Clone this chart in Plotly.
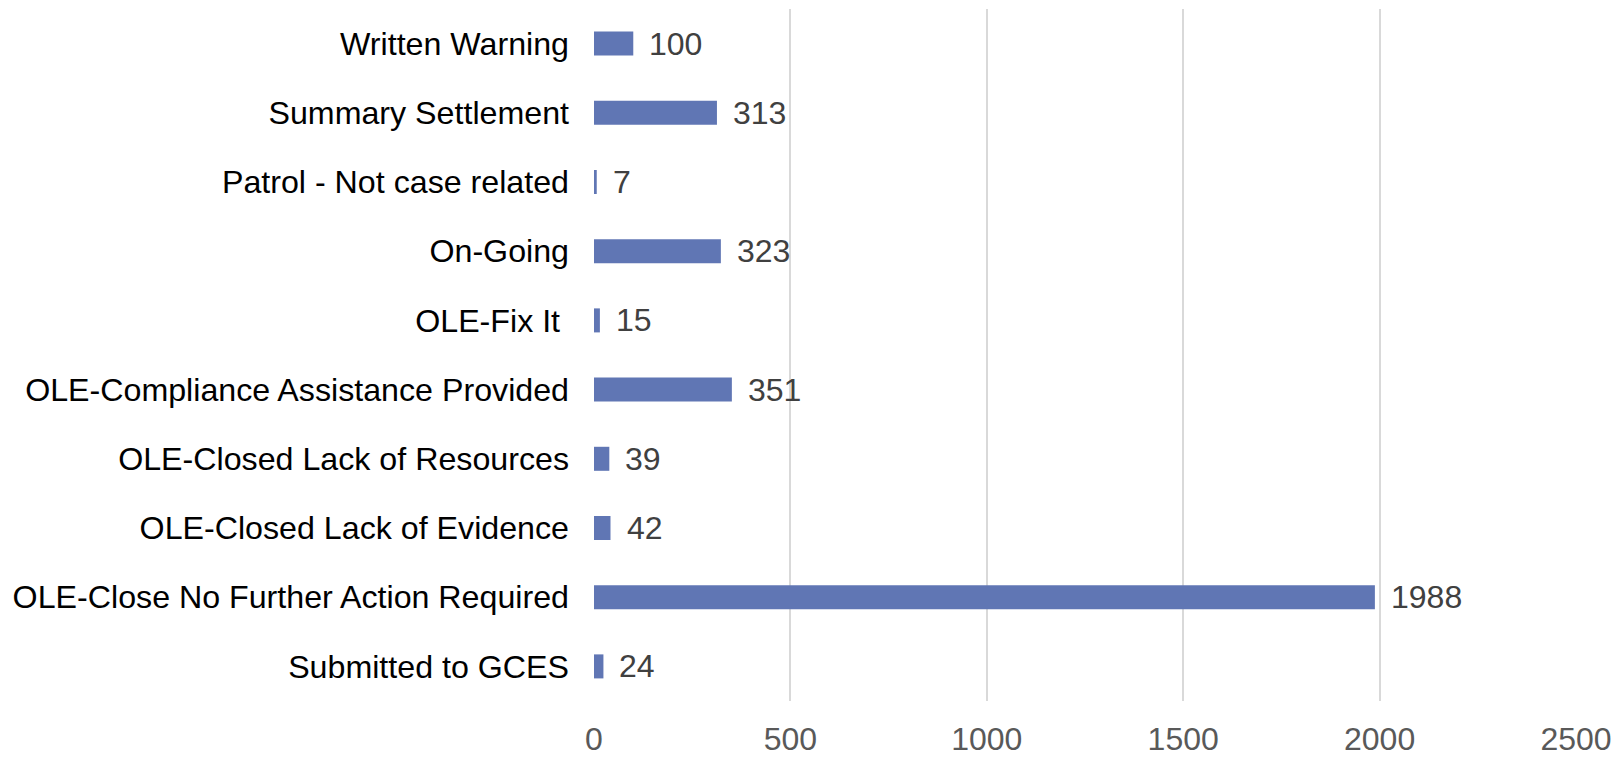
import plotly.graph_objects as go

categories = [
    "Written Warning",
    "Summary Settlement",
    "Patrol - Not case related",
    "On-Going",
    "OLE-Fix It ",
    "OLE-Compliance Assistance Provided",
    "OLE-Closed Lack of Resources",
    "OLE-Closed Lack of Evidence",
    "OLE-Close No Further Action Required",
    "Submitted to GCES",
]
values = [100, 313, 7, 323, 15, 351, 39, 42, 1988, 24]
x_ticks = [0, 500, 1000, 1500, 2000, 2500]

FONT = "Liberation Sans, Arial, sans-serif"

fig = go.Figure()
fig.add_trace(go.Bar(
    x=values,
    y=categories,
    orientation="h",
    marker=dict(color="#6076B4", line=dict(width=0)),
    hoverinfo="x+y",
))

for c, v in zip(categories, values):
    fig.add_annotation(
        x=v, y=c, text=str(v), showarrow=False,
        xanchor="left", yanchor="middle", xshift=14,
        font=dict(family=FONT, size=32, color="#404040"),
    )

fig.update_layout(
    width=1624, height=757,
    margin=dict(l=594, r=48, t=9, b=56, autoexpand=False),
    paper_bgcolor="white", plot_bgcolor="white",
    bargap=0.653,
    showlegend=False,
    font=dict(family=FONT),
)
fig.update_xaxes(
    range=[0, 2500],
    tickvals=x_ticks,
    ticktext=[str(t) for t in x_ticks],
    showgrid=True, gridcolor="#d9d9d9", gridwidth=1.5,
    zeroline=False, showline=False, automargin=False,
    tickfont=dict(family=FONT, size=32, color="#595959"),
    ticks="", ticklabelstandoff=16,
)
fig.update_yaxes(
    autorange="reversed",
    showgrid=False, zeroline=False, showline=False, automargin=False,
    tickfont=dict(family=FONT, size=32.2, color="#000000"),
    ticks="", ticklabelstandoff=24,
)

fig.write_html(
    "out.html",
    config={"displayModeBar": False},
    post_script="document.body.style.margin='0';document.body.style.overflow='hidden';",
)
